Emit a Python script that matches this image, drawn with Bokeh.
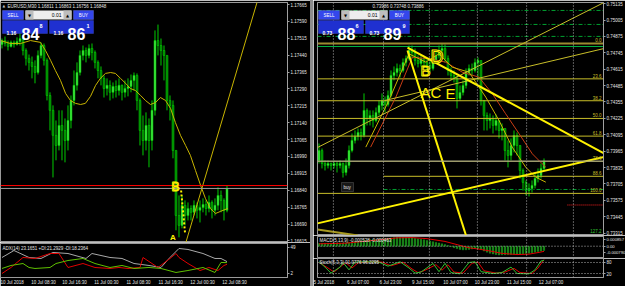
from bokeh.plotting import figure
from bokeh.models import (Range1d, LinearAxis, FixedTicker, PrintfTickFormatter, Label,
                          BoxAnnotation, Span, ColumnDataSource, Spacer)
from bokeh.layouts import row, column
from bokeh.embed import file_html
from bokeh.resources import INLINE

FONT = "Liberation Sans"
TXT = "#E6E6E6"
AXIS = "#A0A0A0"
OUTL = "#9A9A9A"
BULL = "#4CEE4C"
BEAR = "#007A00"
WICK = "#00CC00"

# ================= LEFT CHART: EURUSD,M30 =================
eur_header = "EURUSD,M30  1.16811 1.16863 1.16756 1.16848"
eur_first_open = 1.17488
eur_close = [1.17505, 1.17492, 1.17479, 1.17497, 1.17488, 1.17501, 1.17514, 1.17461, 1.17426, 1.17408,
             1.17390, 1.17363, 1.17439, 1.17483, 1.17417, 1.17261, 1.17195, 1.17084, 1.17039, 1.17128,
             1.17106, 1.17061, 1.17150, 1.17239, 1.17306, 1.17363, 1.17439, 1.17461, 1.17439, 1.17470,
             1.17452, 1.17408, 1.17372, 1.17337, 1.17292, 1.17306, 1.17275, 1.17301, 1.17283, 1.17306,
             1.17275, 1.17292, 1.17301, 1.17328, 1.17350, 1.17239, 1.17106, 1.17061, 1.17128, 1.17061,
             1.17195, 1.17505, 1.17483, 1.17461, 1.17439, 1.17239, 1.17217, 1.17017, 1.16728, 1.16684,
             1.16773, 1.16728, 1.16759, 1.16742, 1.16773, 1.16751, 1.16764, 1.16777, 1.16759, 1.16786,
             1.16751, 1.16773, 1.16817, 1.16795, 1.16751, 1.16848]
eur_high = [1.17514, 1.17523, 1.17505, 1.17505, 1.17505, 1.17519, 1.17537, 1.17523, 1.17470, 1.17443,
            1.17434, 1.17417, 1.17461, 1.17497, 1.17492, 1.17426, 1.17275, 1.17217, 1.17150, 1.17195,
            1.17195, 1.17159, 1.17217, 1.17261, 1.17372, 1.17408, 1.17461, 1.17483, 1.17474, 1.17488,
            1.17492, 1.17461, 1.17417, 1.17390, 1.17350, 1.17337, 1.17328, 1.17319, 1.17328, 1.17337,
            1.17310, 1.17328, 1.17337, 1.17354, 1.17363, 1.17359, 1.17248, 1.17172, 1.17186, 1.17159,
            1.17239, 1.17550, 1.17576, 1.17514, 1.17483, 1.17439, 1.17261, 1.17239, 1.17017, 1.16817,
            1.16817, 1.16795, 1.16786, 1.16773, 1.16795, 1.16786, 1.16795, 1.16804, 1.16795, 1.16817,
            1.16795, 1.16804, 1.16853, 1.16839, 1.16804, 1.16862]
eur_low = [1.17470, 1.17479, 1.17461, 1.17474, 1.17474, 1.17483, 1.17483, 1.17439, 1.17394, 1.17372,
           1.17337, 1.17315, 1.17354, 1.17426, 1.17394, 1.17239, 1.17106, 1.16897, 1.16973, 1.17017,
           1.16973, 1.16964, 1.17017, 1.17115, 1.17217, 1.17283, 1.17350, 1.17417, 1.17408, 1.17426,
           1.17417, 1.17381, 1.17337, 1.17306, 1.17252, 1.17261, 1.17239, 1.17248, 1.17252, 1.17261,
           1.17239, 1.17252, 1.17257, 1.17275, 1.17283, 1.17195, 1.17039, 1.16995, 1.17017, 1.16942,
           1.17017, 1.17172, 1.17439, 1.17394, 1.17328, 1.17195, 1.17150, 1.16982, 1.16662, 1.16631,
           1.16671, 1.16684, 1.16706, 1.16706, 1.16728, 1.16715, 1.16697, 1.16742, 1.16728, 1.16742,
           1.16715, 1.16728, 1.16751, 1.16742, 1.16706, 1.16742]
eur_bid = 1.16848
eur_ask = 1.16861
eur_ticks = [1.17665, 1.17590, 1.17515, 1.17440, 1.17365, 1.17290, 1.17215, 1.17140,
             1.17065, 1.16990, 1.16915, 1.16840, 1.16765, 1.16690, 1.16615]
eur_time_labels = ["10 Jul 2018", "10 Jul 08:30", "10 Jul 16:30", "11 Jul 00:30",
                   "11 Jul 08:30", "11 Jul 16:30", "12 Jul 00:30", "12 Jul 08:30"]
eur_time_pos = [3.2, 13.8, 24.2, 34.8, 45.5, 56.2, 66.8, 77.5]
eur_ma_x = [-0.5, 2.8, 6.2, 9.5, 12.8, 14.5, 16.2, 17.8, 19.5, 21.2, 22.8, 24.5, 26.2, 27.8, 29.5,
            31.2, 32.8, 34.5, 36.2, 37.8, 39.5, 41.2, 42.8, 44.5, 46.2, 47.8, 49.5, 51.2, 52.8, 54.5,
            56.2, 57.8, 59.5, 61.2, 62.8, 64.5, 66.2, 67.8, 69.5, 71.2, 72.8, 75.2]
eur_ma_y = [1.17505, 1.17492, 1.17492, 1.17505, 1.17497, 1.17461, 1.17417, 1.17372, 1.17328, 1.17270,
            1.17239, 1.17226, 1.17221, 1.17226, 1.17257, 1.17306, 1.17337, 1.17359, 1.17363, 1.17359,
            1.17337, 1.17315, 1.17292, 1.17283, 1.17261, 1.17239, 1.17221, 1.17230, 1.17252, 1.17239,
            1.17203, 1.17141, 1.17084, 1.17039, 1.16995, 1.16928, 1.16862, 1.16804, 1.16759, 1.16737,
            1.16746, 1.16759]
eur_trend_x = [61.2, 85.2]
eur_trend_y = [1.16604, 1.17683]
eur_zz_x = [59.7, 61.0]
eur_zz_y = [1.16839, 1.16653]

adx_header = "ADX(14) 23.1651 +DI:21.2929 -DI:18.2364"
adx_x = [0, 4, 9, 13, 17, 22, 28, 30, 36, 40, 44, 49, 53, 56, 59, 62, 67, 71, 73, 75]
adx_v = [30.7, 43.5, 30.7, 28.9, 39.9, 38.0, 28.9, 38.0, 30.7, 28.9, 19.7, 16.1, 12.4, 30.7,
         47.2, 45.4, 38.0, 28.9, 28.9, 23.2]
mdi_x = [0, 3, 7, 11, 16, 19, 22, 27, 31, 36, 39, 42, 46, 47, 50, 52, 56, 58, 59, 62, 66, 69, 72, 74, 75]
mdi_v = [1.4, 12.4, 30.7, 28.9, 38.0, 38.0, 12.4, 19.7, 12.4, 10.6, 12.4, 10.6, 12.4, 30.7, 19.7,
         12.4, 28.9, 38.0, 30.7, 19.7, 6.9, 12.4, 6.9, 16.1, 18.2]
pdi_x = [0, 3, 7, 9, 11, 16, 18, 22, 27, 31, 36, 40, 44, 49, 53, 58, 62, 67, 71, 73, 75]
pdi_v = [10.6, 16.1, 19.7, 12.4, 10.6, 12.4, 19.7, 25.2, 28.9, 19.7, 12.4, 16.1, 10.6, 12.4, 10.6,
         3.3, 6.9, 12.4, 3.3, 21.6, 21.3]
adx_ticks = [49, 2]

# ================= RIGHT CHART: H1 =================
aud_header = "0.73986 0.73748 0.73886"
aud_first_open = 0.73891
aud_close = [0.73970, 0.73867, 0.73852, 0.73867, 0.73852, 0.73867, 0.73852, 0.73867, 0.73796, 0.73852,
             0.73970, 0.74050, 0.74082, 0.74113, 0.74089, 0.74288, 0.74224, 0.74248, 0.74208, 0.74272,
             0.74327, 0.74367, 0.74335, 0.74407, 0.74565, 0.74589, 0.74621, 0.74605, 0.74668, 0.74700,
             0.74763, 0.74748, 0.74684, 0.74660, 0.74700, 0.74668, 0.74645, 0.74621, 0.74684, 0.74724,
             0.74763, 0.74779, 0.74700, 0.74605, 0.74565, 0.74541, 0.74383, 0.74430, 0.74486, 0.74589,
             0.74621, 0.74605, 0.74668, 0.74684, 0.74367, 0.74248, 0.74208, 0.74224, 0.74169, 0.74208,
             0.74129, 0.74145, 0.73970, 0.73931, 0.74010, 0.74089, 0.74010, 0.73812, 0.73717, 0.73653,
             0.73669, 0.73693, 0.73748, 0.73772, 0.73828, 0.73886]
aud_high = [0.74026, 0.73986, 0.73891, 0.73891, 0.73875, 0.73891, 0.73883, 0.73891, 0.73875, 0.73907,
            0.74010, 0.74105, 0.74129, 0.74145, 0.74145, 0.74423, 0.74304, 0.74288, 0.74288, 0.74311,
            0.74367, 0.74423, 0.74399, 0.74446, 0.74605, 0.74637, 0.74660, 0.74652, 0.74700, 0.74724,
            0.74803, 0.74803, 0.74779, 0.74724, 0.74724, 0.74716, 0.74700, 0.74684, 0.74708, 0.74763,
            0.74803, 0.74819, 0.74811, 0.74724, 0.74629, 0.74605, 0.74565, 0.74486, 0.74526, 0.74621,
            0.74652, 0.74660, 0.74700, 0.74708, 0.74684, 0.74367, 0.74272, 0.74264, 0.74248, 0.74256,
            0.74208, 0.74185, 0.74145, 0.74050, 0.74066, 0.74129, 0.74113, 0.74010, 0.73828, 0.73733,
            0.73709, 0.73733, 0.73796, 0.73828, 0.73867, 0.73907]
aud_low = [0.73867, 0.73828, 0.73812, 0.73828, 0.73812, 0.73828, 0.73796, 0.73828, 0.73756, 0.73772,
           0.73828, 0.73955, 0.74026, 0.74050, 0.74050, 0.74074, 0.74169, 0.74169, 0.74153, 0.74193,
           0.74248, 0.74288, 0.74272, 0.74319, 0.74391, 0.74526, 0.74557, 0.74549, 0.74589, 0.74637,
           0.74684, 0.74700, 0.74645, 0.74629, 0.74637, 0.74621, 0.74605, 0.74589, 0.74605, 0.74660,
           0.74700, 0.74724, 0.74668, 0.74565, 0.74526, 0.74510, 0.74304, 0.74367, 0.74407, 0.74462,
           0.74565, 0.74565, 0.74589, 0.74526, 0.74327, 0.74129, 0.74129, 0.74145, 0.74105, 0.74129,
           0.74066, 0.74050, 0.73891, 0.73836, 0.73891, 0.73955, 0.73931, 0.73748, 0.73653, 0.73614,
           0.73606, 0.73637, 0.73669, 0.73717, 0.73748, 0.73812]
aud_bid = 0.73886
aud_ticks = [0.75135, 0.75005, 0.74875, 0.74745, 0.74615, 0.74485, 0.74355, 0.74225,
             0.74095, 0.73965, 0.73835, 0.73705, 0.73575, 0.73445, 0.73315]
aud_time_labels = ["5 Jul 2018", "6 Jul 07:00", "6 Jul 23:00", "9 Jul 15:00",
                   "10 Jul 07:00", "10 Jul 23:00", "11 Jul 15:00", "12 Jul 07:00"]
aud_time_pos = [0.5, 13.0, 23.8, 34.7, 45.5, 56.0, 66.7, 77.3]
aud_grid_pos = [4.8, 21.5, 36.8, 52.8, 69.2, 84.8]
# moving averages
aud_ma1_x = [17.2, 25.6, 31.1, 36.7, 42.2, 47.8, 53.3, 57.8, 62.2, 66.7, 71.1, 74.4, 75.6]
aud_ma1_y = [0.73997, 0.74393, 0.74710, 0.74698, 0.74671, 0.74591, 0.74552, 0.74420, 0.74262,
             0.74103, 0.73944, 0.73865, 0.73838]
aud_ma2_x = [15.6, 23.3, 30.0, 35.6, 40.0, 44.4, 50.0, 55.6, 60.0, 64.4, 68.9, 72.2, 75.6]
aud_ma2_y = [0.73997, 0.74367, 0.74737, 0.74671, 0.74737, 0.74631, 0.74591, 0.74393, 0.74208,
             0.73997, 0.73838, 0.73759, 0.73719]
# trend lines (time index, price)
aud_tl_up = ([-0.5, 95.0], [0.73392, 0.73918])
aud_tl_down = ([29.5, 95.0], [0.74787, 0.73947])
aud_tl_steep = ([29.5, 49.0], [0.74763, 0.73296])
aud_tl_low = ([-0.5, 13.0], [0.73344, 0.73296])
aud_ch1 = ([-0.5, 95.0], [0.73994, 0.75144])
aud_ch2 = ([22.0, 95.0], [0.74367, 0.74779])
# fibonacci
fib_levels = [0.0, 23.6, 38.2, 50.0, 61.8, 78.6, 88.6, 100.0]
fib_start = [-0.5, -0.5, -0.5, -0.5, -0.5, -0.5, 21.5, -0.5]
fib_high = 0.74819
fib_low = 0.73630
fib_ext_label = "127.2"
green_levels = [0.75081, 0.74970, 0.74875]
green_solid = 0.74795
green_low = (21.5, 0.73661)
red_dot = (82.8, 0.73538)
# pattern letters: text, time index, price, size, hollow
aud_letters = [("D", 37.2, 0.74708, 18, True), ("B", 33.8, 0.74605, 15, True),
               ("AC", 33.8, 0.74430, 15, False), ("E", 42.2, 0.74423, 15, False)]

macd_header = "MACD(5,13,9) -0.000528 -0.000463"
macd_main = [0.00035, 0.00036, 0.00036, 0.00038, 0.00038, 0.00040, 0.00040, 0.00041, 0.00040, 0.00042,
             0.00046, 0.00052, 0.00058, 0.00062, 0.00066, 0.00074, 0.00078, 0.00080, 0.00082, 0.00085,
             0.00088, 0.00092, 0.00095, 0.00098, 0.00103, 0.00106, 0.00108, 0.00108, 0.00108, 0.00107,
             0.00106, 0.00104, 0.00098, 0.00092, 0.00086, 0.00080, 0.00072, 0.00064, 0.00056, 0.00048,
             0.00040, 0.00030, 0.00020, 0.00008, -0.00005, -0.00018, -0.00030, -0.00040, -0.00046, -0.00045,
             -0.00040, -0.00035, -0.00030, -0.00028, -0.00040, -0.00060, -0.00075, -0.00088, -0.00098, -0.00105,
             -0.00110, -0.00108, -0.00106, -0.00105, -0.00104, -0.00102, -0.00100, -0.00098, -0.00096, -0.00092,
             -0.00088, -0.00082, -0.00075, -0.00068, -0.00060, -0.00053]
macd_sig_x = [0, 9, 20, 26, 31, 36, 42, 47, 50, 53, 57, 61, 66, 70, 73, 75]
macd_sig_v = [0.00030, 0.00038, 0.00080, 0.00105, 0.00108, 0.00095, 0.00060, 0.00010, -0.00020,
              -0.00035, -0.00060, -0.00090, -0.00105, -0.00100, -0.00080, -0.00065]
macd_ticks = [0.000857, 0.0, -0.00079]
macd_tick_labels = ["0.000857", "0.00", "-0.000790"]

stoch_header = "Stoch(5,3,3) 91.9776 96.2295"
stm_x = [0, 2, 4, 7, 8, 10, 12, 16, 20, 23, 27, 30, 32, 34, 38, 40, 42, 44, 47, 50, 52, 54, 58, 61,
         64, 66, 70, 72, 74, 75]
stm_v = [84, 55, 22, 55, 80, 40, 82, 84, 82, 60, 84, 50, 22, 28, 75, 30, 75, 25, 18, 80, 84, 30, 20,
         25, 55, 20, 18, 40, 88, 92]
sts_x = [0, 3, 5, 8, 9, 11, 13, 17, 21, 24, 28, 31, 33, 35, 39, 41, 43, 45, 48, 51, 53, 55, 59, 62,
         65, 67, 71, 73, 75]
sts_v = [80, 50, 28, 68, 78, 50, 78, 84, 82, 62, 82, 45, 25, 35, 68, 38, 68, 28, 22, 76, 82, 35, 22,
         28, 48, 25, 20, 50, 96]
stoch_ticks = [80, 20]


# ================= helpers =================
def make_fig(fw, fh, xr, yr, bl, br, bt, bb):
    p = figure(frame_width=fw, frame_height=fh, x_range=xr, y_range=yr,
               output_backend="svg", toolbar_location=None,
               min_border_left=bl, min_border_right=br, min_border_top=bt, min_border_bottom=bb,
               background_fill_color="black", border_fill_color="black",
               outline_line_color=OUTL, outline_line_width=1,
               x_axis_location=None, y_axis_location=None)
    p.xgrid.visible = False
    p.ygrid.visible = False
    return p


def right_axis(p, ticks, fmt=None, overrides=None, size="4.5px"):
    ax = LinearAxis(ticker=FixedTicker(ticks=ticks), axis_line_color=AXIS,
                    major_tick_line_color=AXIS, major_tick_out=2, major_tick_in=0,
                    minor_tick_line_color=None, major_label_text_color=TXT,
                    major_label_text_font_size=size, major_label_text_font=FONT,
                    major_label_standoff=1)
    if fmt:
        ax.formatter = PrintfTickFormatter(format=fmt)
    if overrides:
        ax.major_label_overrides = overrides
    p.add_layout(ax, "right")


def time_axis(p, pos, labels):
    ax = LinearAxis(ticker=FixedTicker(ticks=pos),
                    major_label_overrides={k: v for k, v in zip(pos, labels)},
                    axis_line_color=None, major_tick_line_color=None, minor_tick_line_color=None,
                    major_tick_out=0, major_tick_in=0, major_label_standoff=2,
                    major_label_text_font_size="4.5px", major_label_text_color=TXT,
                    major_label_text_font=FONT)
    p.add_layout(ax, "below")


def sbox(p, org, l, r, t, b, color, line=None):
    fl, fb = org
    p.add_layout(BoxAnnotation(left=l - fl, right=r - fl, top=fb - t, bottom=fb - b,
                               left_units="screen", right_units="screen",
                               top_units="screen", bottom_units="screen",
                               fill_color=color, fill_alpha=1.0, line_color=line, line_width=1))


def stext(p, org, x, y, text, size, color=TXT, align="left", baseline="middle", bold=False,
          font=FONT):
    fl, fb = org
    p.add_layout(Label(x=x - fl, y=fb - y, x_units="screen", y_units="screen", text=text,
                       text_font_size=f"{size}px", text_color=color, text_align=align,
                       text_baseline=baseline, text_font=font,
                       text_font_style="bold" if bold else "normal"))


def letter(p, text, xi, pr, size, hollow):
    kw = dict(x=xi, y=pr, text=text, text_font_size=f"{size}px", text_font=FONT,
              text_baseline="alphabetic")
    lab = None
    if hollow:
        try:
            lab = Label(text_color="black", text_outline_color=BRIGHT, **kw)
        except Exception:
            lab = None
    if lab is None:
        lab = Label(text_color=BRIGHT, **kw)
    p.add_layout(lab)


def candles(p, first_open, close, high, low):
    opens = [first_open] + close[:-1]
    xs = list(range(len(close)))
    src = ColumnDataSource(dict(
        x=xs, high=high, low=low,
        top=[max(o, c) for o, c in zip(opens, close)],
        bot=[min(o, c) for o, c in zip(opens, close)],
        fill=[BULL if c >= o else BEAR for o, c in zip(opens, close)]))
    p.segment(x0="x", y0="high", x1="x", y1="low", source=src, line_color=WICK, line_width=1)
    p.vbar(x="x", width=0.62, top="top", bottom="bot", source=src, fill_color="fill",
           line_color=WICK, line_width=0.6)


def one_click(p, org, dx, big_sell, sup_sell, big_buy, sup_buy, small):
    BTN = "#3447EC"
    BOX = "#1F30D0"
    sbox(p, org, dx + 2, dx + 23, 10, 19, BTN, "#8090FF")
    stext(p, org, dx + 12.5, 14.7, "SELL", 4.5, "white", align="center")
    sbox(p, org, dx + 25, dx + 71, 10, 19, "#EDEDED")
    sbox(p, org, dx + 25, dx + 33, 10, 19, "#BDBDBD")
    sbox(p, org, dx + 63, dx + 71, 10, 19, "#BDBDBD")
    stext(p, org, dx + 29, 14.7, "▼", 4, "black", align="center", font="DejaVu Sans")
    stext(p, org, dx + 67, 14.7, "▲", 4, "black", align="center", font="DejaVu Sans")
    stext(p, org, dx + 61, 14.7, "0.01", 5, "black", align="right")
    sbox(p, org, dx + 73, dx + 93, 10, 19, BTN, "#8090FF")
    stext(p, org, dx + 83, 14.7, "BUY", 4.5, "white", align="center")
    sbox(p, org, dx + 2, dx + 47, 20, 33, BOX, "#5060F0")
    sbox(p, org, dx + 49, dx + 93, 20, 33, BOX, "#5060F0")
    stext(p, org, dx + 6, 32, small, 5, "white", baseline="alphabetic", bold=True)
    stext(p, org, dx + 21, 33, big_sell, 16, "white", baseline="alphabetic", bold=True)
    stext(p, org, dx + 39, 25, sup_sell, 5.5, "white", baseline="alphabetic", bold=True)
    stext(p, org, dx + 53, 32, small, 5, "white", baseline="alphabetic", bold=True)
    stext(p, org, dx + 67, 33, big_buy, 16, "white", baseline="alphabetic", bold=True)
    stext(p, org, dx + 86, 25, sup_buy, 5.5, "white", baseline="alphabetic", bold=True)


YEL = "#C8B400"
BRIGHT = "#FFF200"
FIBC = "#C8BE28"
GREENL = "#00A030"

# ================= LEFT FIGURES =================
lx = Range1d(-0.5, 95.17)
LP = make_fig(287, 240, lx, Range1d(1.16608, 1.17674), 0, 23, 2, 0)
LP_ORG = (0, 242)
candles(LP, eur_first_open, eur_close, eur_high, eur_low)
LP.line(eur_ma_x, eur_ma_y, line_color=YEL, line_width=1)
LP.line(eur_trend_x, eur_trend_y, line_color=YEL, line_width=1)
LP.line(eur_zz_x, eur_zz_y, line_color=BRIGHT, line_width=2, line_dash="2 2")
LP.add_layout(Span(location=eur_ask, dimension="width", line_color="#FF0000", line_width=1))
LP.add_layout(Span(location=eur_bid, dimension="width", line_color="#9A9A9A", line_width=1))
letter(LP, "B", 56.5, 1.16853, 12, True)
LP.add_layout(Label(x=56.0, y=1.16628, text="A", text_font_size="8px", text_color=BRIGHT,
                    text_font=FONT, text_font_style="bold", text_baseline="alphabetic"))
right_axis(LP, eur_ticks, fmt="%.5f")
LP.add_layout(Label(x=288, x_units="screen", y=eur_ask, text=f"{eur_ask:.5f}", text_font_size="4.5px",
                    text_color="white", background_fill_color="#E00000", text_baseline="middle",
                    text_font=FONT))
LP.add_layout(Label(x=288, x_units="screen", y=eur_bid, text=f"{eur_bid:.5f}", text_font_size="4.5px",
                    text_color="black", background_fill_color="white", text_baseline="middle",
                    text_font=FONT))
stext(LP, LP_ORG, 2, 5.7, "▲", 3.5, "#C0C0C0", font="DejaVu Sans")
stext(LP, LP_ORG, 7, 5.7, eur_header, 4.5, TXT)
one_click(LP, LP_ORG, 0, "84", "8", "86", "1", "1.16")

LA = make_fig(287, 34, lx, Range1d(-5.9, 56.3), 0, 23, 1, 9)
LA_ORG = (0, 277)
LA.line(adx_x, adx_v, line_color="#A8A8A8", line_width=1)
LA.line(mdi_x, mdi_v, line_color="#E00000", line_width=1)
LA.line(pdi_x, pdi_v, line_color="#5FC000", line_width=1)
right_axis(LA, adx_ticks)
time_axis(LA, eur_time_pos, eur_time_labels)
stext(LA, LA_ORG, 2, 247.7, adx_header, 4.5, TXT)

# ================= RIGHT FIGURES =================
rx = Range1d(-0.5, 94.83)
RP = make_fig(286, 233, rx, Range1d(0.73296, 0.75144), 4, 22, 2, 0)
RP_ORG = (317, 235)
for g in aud_grid_pos:
    RP.add_layout(Span(location=g, dimension="height", line_color="#B4B4B4", line_width=1,
                       line_dash="1 2"))
candles(RP, aud_first_open, aud_close, aud_high, aud_low)
for lv in green_levels:
    RP.segment(-0.5, lv, 94.83, lv, line_color=GREENL, line_width=1, line_dash="4 2 1 2")
RP.segment(-0.5, green_solid, 94.83, green_solid, line_color="#00B040", line_width=1)
RP.segment(green_low[0], green_low[1], 94.83, green_low[1], line_color=GREENL, line_width=1,
           line_dash="4 2 1 2")
RP.segment(red_dot[0], red_dot[1], 94.83, red_dot[1], line_color="#FF2020", line_width=1,
           line_dash="1 1")
fib_prices = [fib_high - (fib_high - fib_low) * lv / 100.0 for lv in fib_levels]
for lv, pr, st in zip(fib_levels, fib_prices, fib_start):
    RP.segment(st, pr, 94.83, pr, line_color="#9C8A30" if lv == 0.0 else FIBC,
               line_width=2 if lv == 0.0 else 1)
    RP.add_layout(Label(x=284, x_units="screen", y=pr, y_offset=1, text=f"{lv:.1f}",
                        text_font_size="4.5px", text_color=FIBC, text_align="right",
                        text_baseline="bottom", text_font=FONT))
ext_price = fib_high - (fib_high - fib_low) * float(fib_ext_label) / 100.0
RP.add_layout(Label(x=284, x_units="screen", y=ext_price, y_offset=1, text=fib_ext_label,
                    text_font_size="4.5px", text_color="#30C030", text_align="right",
                    text_baseline="bottom", text_font=FONT))
RP.add_layout(Span(location=aud_bid, dimension="width", line_color="#9A9A9A", line_width=1))
RP.line(aud_ma1_x, aud_ma1_y, line_color="#C83C14", line_width=1)
RP.line(aud_ma2_x, aud_ma2_y, line_color=YEL, line_width=1)
RP.line(*aud_ch1, line_color=FIBC, line_width=1)
RP.line(*aud_ch2, line_color=FIBC, line_width=1)
RP.line(*aud_tl_up, line_color=BRIGHT, line_width=2)
RP.line(*aud_tl_down, line_color=BRIGHT, line_width=2)
RP.line(*aud_tl_steep, line_color=BRIGHT, line_width=2)
RP.line(*aud_tl_low, line_color="#A89A20", line_width=2)
for t, xi, pr, sz, hol in aud_letters:
    letter(RP, t, xi, pr, sz, hol)
right_axis(RP, aud_ticks, fmt="%.5f")
RP.add_layout(Label(x=287, x_units="screen", y=aud_bid, text=f"{aud_bid:.5f}", text_font_size="4.5px",
                    text_color="black", background_fill_color="white", text_baseline="middle",
                    text_font=FONT))
sbox(RP, RP_ORG, 341, 353, 182, 191, "#181818", "#909090")
stext(RP, RP_ORG, 343, 186.5, "buy", 4.5, TXT)
stext(RP, RP_ORG, 372, 5.7, aud_header, 4.5, TXT)
one_click(RP, RP_ORG, 316, "88", "6", "89", "9", "0.73")

RM = make_fig(286, 21, rx, Range1d(-0.00142, 0.00122), 4, 22, 1, 1)
RM_ORG = (317, 257)
for g in aud_grid_pos:
    RM.add_layout(Span(location=g, dimension="height", line_color="#B4B4B4", line_width=1,
                       line_dash="1 2"))
RM.add_layout(Span(location=0, dimension="width", line_color="#B4B4B4", line_width=1,
                   line_dash="1 2"))
RM.vbar(x=list(range(len(macd_main))), width=0.45, top=macd_main, bottom=0,
        fill_color="#1E9E1E", line_color="#1E9E1E", line_width=0.5)
RM.line(macd_sig_x, macd_sig_v, line_color="#E00000", line_width=1)
right_axis(RM, macd_ticks, overrides={k: v for k, v in zip(macd_ticks, macd_tick_labels)},
           size="4.2px")
stext(RM, RM_ORG, 319, 240, macd_header, 4.5, TXT)

RS = make_fig(286, 19, rx, Range1d(-1.8, 101.8), 4, 22, 0, 9)
RS_ORG = (317, 277)
for g in aud_grid_pos:
    RS.add_layout(Span(location=g, dimension="height", line_color="#B4B4B4", line_width=1,
                       line_dash="1 2"))
for lv in stoch_ticks:
    RS.add_layout(Span(location=lv, dimension="width", line_color="#B4B4B4", line_width=1,
                       line_dash="1 2"))
RS.line(sts_x, sts_v, line_color="#E00000", line_width=1)
RS.line(stm_x, stm_v, line_color="#30C030", line_width=1)
right_axis(RS, stoch_ticks)
time_axis(RS, aud_time_pos, aud_time_labels)
stext(RS, RS_ORG, 319, 262, stoch_header, 4.5, TXT)

gap = Spacer(width=3, height=286, styles={"background-color": "#8C8C8C"})
layout = row(column(LP, LA), gap, column(RP, RM, RS))

open("out.html", "w").write(file_html(layout, INLINE, "chart"))
